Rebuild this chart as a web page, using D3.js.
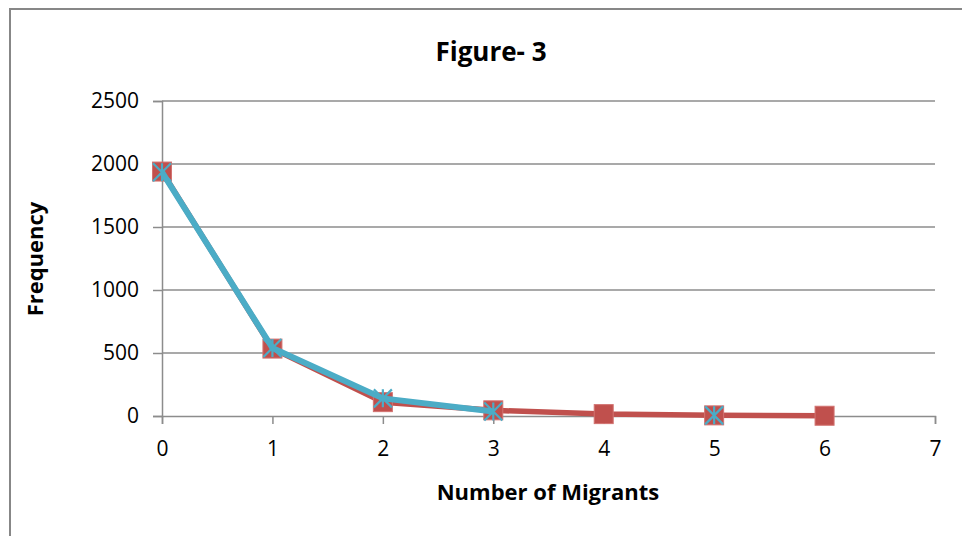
<!DOCTYPE html>
<html>
<head>
<meta charset="utf-8">
<script src="https://cdn.jsdelivr.net/npm/d3@7"></script>
<style>
  html, body { margin: 0; padding: 0; background: #fff; }
  svg { display: block; }
  text { font-family: "Open Sans", "Noto Sans", sans-serif; fill: #000; }
</style>
</head>
<body>
<svg id="chart" width="962" height="536"></svg>
<script>
// Number of migrants (x) and observed / fitted frequencies
const migrants = [0, 1, 2, 3, 4, 5, 6];
const observed = [1940, 535, 110, 45, 15, 5, 2];
const fitted   = [1935, 540, 140, 35, null, 5, null];
const yTicks = [0, 500, 1000, 1500, 2000, 2500];
const xTicks = [0, 1, 2, 3, 4, 5, 6, 7];

const titleText = "Figure- 3";
const xTitle = "Number of Migrants";
const yTitle = "Frequency";

const svg = d3.select("#chart");
const W = 962, H = 536;
const m = { left: 162, right: 962 - 935, top: 101, bottom: 536 - 416 };

const x = d3.scaleLinear().domain([0, 7]).range([m.left, W - m.right]);
const y = d3.scaleLinear().domain([0, 2500]).range([H - m.bottom, m.top]);

// outer chart frame
svg.append("rect")
  .attr("x", 10).attr("y", 9)
  .attr("width", 970).attr("height", 560)
  .attr("fill", "none").attr("stroke", "#878787").attr("stroke-width", 2);

const gridColor = "#8c8c8c";
const tickFont = "21px";

// horizontal gridlines
svg.append("g")
  .selectAll("line")
  .data(yTicks.filter(d => d > 0))
  .join("line")
  .attr("x1", x(0)).attr("x2", x(7))
  .attr("y1", d => y(d)).attr("y2", d => y(d))
  .attr("stroke", gridColor).attr("stroke-width", 1.5);

// y axis
const yAxis = svg.append("g")
  .attr("transform", `translate(${x(0)},0)`)
  .call(d3.axisLeft(y).tickValues(yTicks).tickSize(9).tickPadding(14).tickFormat(d3.format("d")));
yAxis.select(".domain").attr("stroke", gridColor).attr("stroke-width", 1.5);
yAxis.selectAll(".tick line").attr("stroke", gridColor).attr("stroke-width", 1.5);
yAxis.selectAll(".tick text")
  .style("font-family", "'Open Sans', sans-serif").style("font-size", tickFont).attr("fill", "#000");

// x axis
const xAxis = svg.append("g")
  .attr("transform", `translate(0,${y(0)})`)
  .call(d3.axisBottom(x).tickValues(xTicks).tickSize(8).tickPadding(17).tickFormat(d3.format("d")));
xAxis.select(".domain").attr("stroke", gridColor).attr("stroke-width", 1.5);
xAxis.selectAll(".tick line").attr("stroke", gridColor).attr("stroke-width", 1.5);
xAxis.selectAll(".tick text")
  .style("font-family", "'Open Sans', sans-serif").style("font-size", tickFont).attr("fill", "#000");

const red = "#c0504d", blue = "#4bacc6";

// observed series: line + square markers
const lineObs = d3.line()
  .x((d, i) => x(migrants[i])).y(d => y(d));
svg.append("path")
  .datum(observed)
  .attr("d", lineObs)
  .attr("fill", "none").attr("stroke", red).attr("stroke-width", 5.5)
  .attr("stroke-linejoin", "round");
const sq = 19;
svg.append("g").selectAll("rect")
  .data(observed)
  .join("rect")
  .attr("x", (d, i) => x(migrants[i]) - sq / 2)
  .attr("y", d => y(d) - sq / 2)
  .attr("width", sq).attr("height", sq)
  .attr("fill", red).attr("stroke", "#d27371").attr("stroke-width", 1);

// fitted series: line (with gap where missing) + star markers
const lineFit = d3.line()
  .defined(d => d != null)
  .x((d, i) => x(migrants[i])).y(d => y(d));
svg.append("path")
  .datum(fitted)
  .attr("d", lineFit)
  .attr("fill", "none").attr("stroke", blue).attr("stroke-width", 6)
  .attr("stroke-linejoin", "round");
const s = 9;
const stars = svg.append("g").selectAll("g")
  .data(fitted.map((v, i) => ({ x: migrants[i], v })).filter(d => d.v != null))
  .join("g")
  .attr("transform", d => `translate(${x(d.x)},${y(d.v)})`);
stars.append("path")
  .attr("d", `M${-s},${-s}L${s},${s}M${-s},${s}L${s},${-s}M0,${-s}L0,${s}`)
  .attr("stroke", blue).attr("stroke-width", 2.2).attr("fill", "none");

// titles
svg.append("text")
  .attr("x", 491).attr("y", 61)
  .attr("text-anchor", "middle")
  .style("font-size", "26px").style("font-weight", "bold")
  .text(titleText);

svg.append("text")
  .attr("x", 548).attr("y", 500)
  .attr("text-anchor", "middle")
  .style("font-size", "22px").style("font-weight", "bold")
  .text(xTitle);

svg.append("text")
  .attr("transform", "translate(43,259) rotate(-90)")
  .attr("text-anchor", "middle")
  .style("font-size", "22px").style("font-weight", "bold")
  .text(yTitle);
</script>
</body>
</html>
